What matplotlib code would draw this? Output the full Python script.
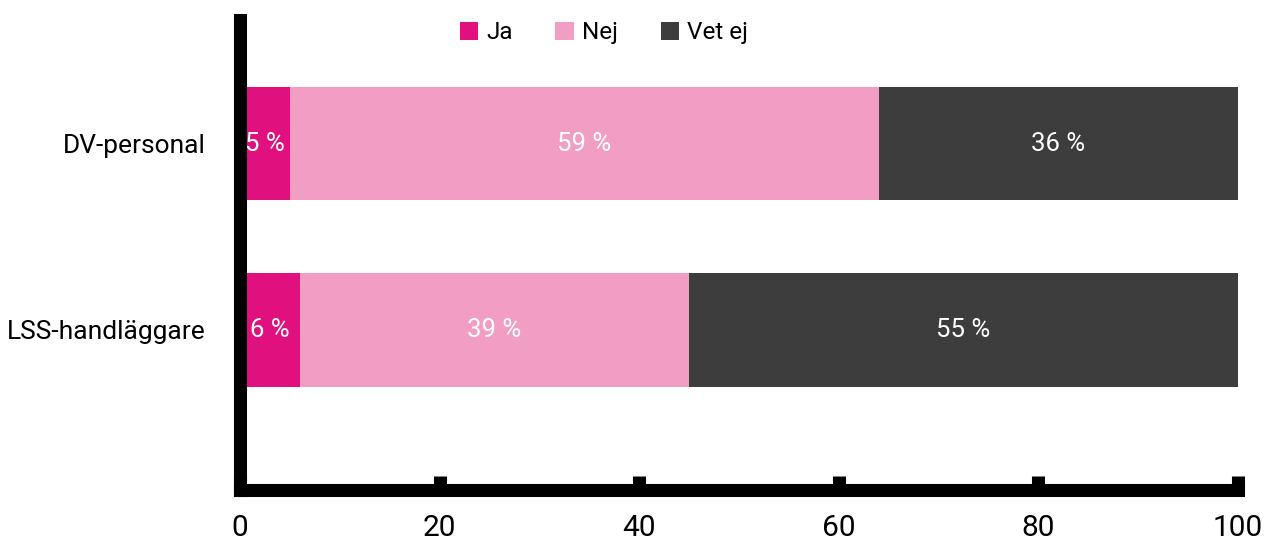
import matplotlib.pyplot as plt
import numpy as np

plt.rcParams['font.family'] = ['Roboto', 'DejaVu Sans']

categories = ['LSS-handläggare', 'DV-personal']
series_names = ['Ja', 'Nej', 'Vet ej']
ja = [6, 5]
nej = [39, 59]
vet_ej = [55, 36]
colors = ['#E0107E', '#F29EC4', '#3D3D3D']

fig = plt.figure(figsize=(12.66, 5.4), dpi=100)
ax = fig.add_axes([240 / 1266, 50 / 540, (1238 - 240) / 1266, (520.5 - 50) / 540])

y = np.arange(len(categories))
left = np.zeros(len(categories))
for name, vals, col in zip(series_names, [ja, nej, vet_ej], colors):
    bars = ax.barh(y, vals, left=left, height=0.606, color=col, label=name)
    for b, v in zip(bars, vals):
        ax.text(b.get_x() + b.get_width() / 2, b.get_y() + b.get_height() / 2,
                f'{v} %', ha='center', va='center', color='white', fontsize=18.5)
    left += np.array(vals)

ax.set_xlim(0, 100)
ax.set_ylim(-0.858, 1.665)
ax.set_yticks(y)
ax.set_yticklabels(categories, fontsize=19)
ax.set_xticks([0, 20, 40, 60, 80, 100])
ax.tick_params(axis='y', length=0, pad=25)
ax.tick_params(axis='x', direction='in', length=10, width=9.4, labelsize=21.5, pad=17)

for s in ['top', 'right']:
    ax.spines[s].set_visible(False)
for s in ['left', 'bottom']:
    ax.spines[s].set_linewidth(9.4)
    ax.spines[s].set_capstyle('projecting')

fig.legend(loc='center', bbox_to_anchor=(604 / 1266, 1 - 33 / 540), ncol=3,
           frameon=False, fontsize=17.5, handlelength=0.75, handleheight=0.75,
           handletextpad=0.35, columnspacing=1.75)

fig.savefig('out.png', dpi=100)
